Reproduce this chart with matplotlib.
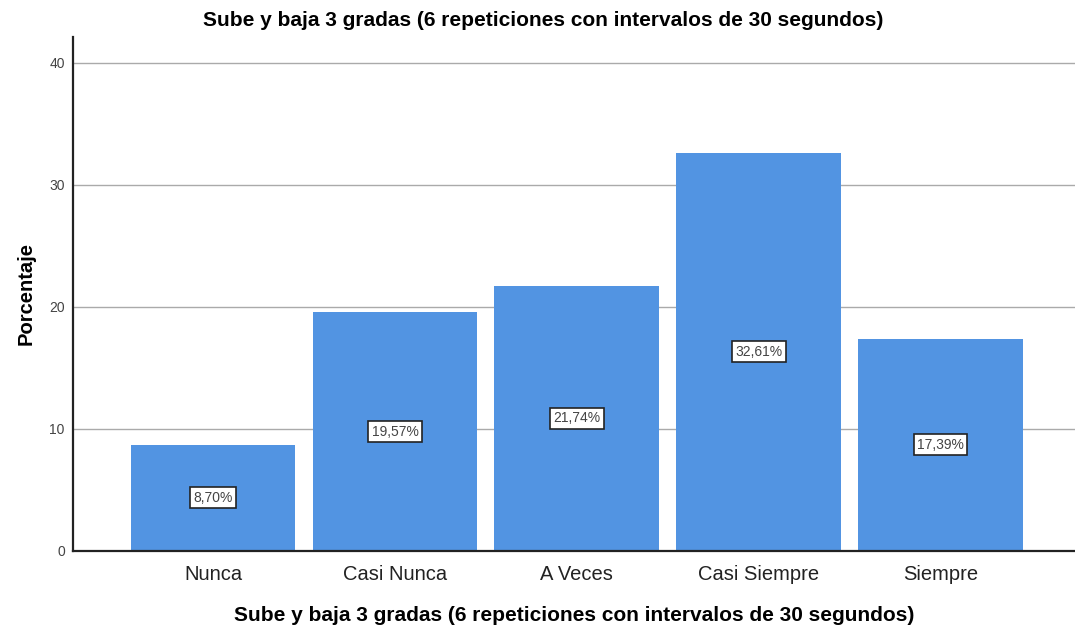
import matplotlib
matplotlib.use("Agg")
import matplotlib.pyplot as plt

plt.rcParams["font.family"] = ["Liberation Sans", "DejaVu Sans"]

categories = ["Nunca", "Casi Nunca", "A Veces", "Casi Siempre", "Siempre"]
percentages = [8.70, 19.57, 21.74, 32.61, 17.39]
yticks = [0, 10, 20, 30, 40]
title = "Sube y baja 3 gradas (6 repeticiones con intervalos de 30 segundos)"

fig = plt.figure(figsize=(10.75, 6.3), dpi=100)
ax = fig.add_axes([0.068, 0.1254, 0.932, 0.816])

x = list(range(len(categories)))
ax.bar(x, percentages, width=0.905, color="#5294e2", zorder=2)

for xi, val in zip(x, percentages):
    ax.text(xi, val / 2, f"{val:.2f}%".replace(".", ","), ha="center", va="center",
            fontsize=10, color="#444444", zorder=3,
            bbox=dict(boxstyle="square,pad=0.25", facecolor="white",
                      edgecolor="#222222", linewidth=1.2))

ax.set_xlim(-0.77, 4.74)
ax.set_ylim(0, 42.1)
ax.set_yticks(yticks)
ax.set_xticks(x)
ax.set_xticklabels(categories, fontsize=14.5, color="#222222")
ax.tick_params(axis="y", labelsize=10, labelcolor="#444444", length=0, pad=6)
ax.tick_params(axis="x", length=0, pad=10)
ax.yaxis.grid(True, color="#aaaaaa", linewidth=1.0, zorder=0)
ax.set_axisbelow(True)

for side in ("top", "right"):
    ax.spines[side].set_visible(False)
ax.spines["left"].set_linewidth(1.6)
ax.spines["bottom"].set_linewidth(1.6)
ax.spines["left"].set_color("#222222")
ax.spines["bottom"].set_color("#222222")

ax.set_ylabel("Porcentaje", fontsize=14.5, fontweight="bold", labelpad=10)
ax.set_xlabel(title, fontsize=15, fontweight="bold", labelpad=16)
fig.text(0.505, 0.968, title, ha="center", va="center", fontsize=15, fontweight="bold")

fig.savefig("out.png", dpi=100)
